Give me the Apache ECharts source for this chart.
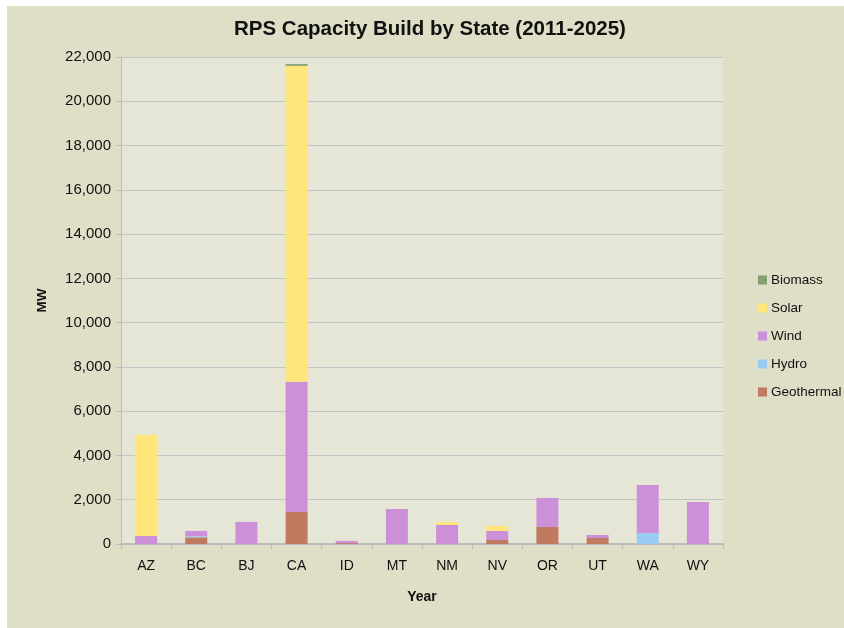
<!DOCTYPE html>
<html>
<head>
<meta charset="utf-8">
<script src="https://cdn.jsdelivr.net/npm/echarts@6/dist/echarts.min.js"></script>
<style>
  html, body { margin: 0; padding: 0; background: #ffffff; }
  #main { position: absolute; left: 7px; top: 6px; width: 837px; height: 622px; }
</style>
</head>
<body>
<div id="main"></div>
<script>
var states = ['AZ', 'BC', 'BJ', 'CA', 'ID', 'MT', 'NM', 'NV', 'OR', 'UT', 'WA', 'WY'];
var geothermal = [0, 300, 0, 1445, 40, 0, 0, 180, 770, 270, 0, 0];
var hydro = [0, 50, 0, 0, 0, 0, 0, 0, 0, 0, 500, 0];
var wind = [360, 240, 1000, 5885, 100, 1580, 860, 410, 1310, 135, 2165, 1900];
var solar = [4560, 0, 0, 14270, 0, 0, 130, 225, 0, 0, 0, 0];
var biomass = [0, 0, 0, 80, 0, 0, 0, 0, 0, 0, 0, 0];

var colors = {
    Geothermal: '#c07a60',
    Hydro: '#99ccf2',
    Wind: '#cc90d8',
    Solar: '#ffe57a',
    Biomass: '#86a06f'
};

var myChart = echarts.init(document.getElementById('main'));

function bar(name, data) {
    return {
        name: name,
        type: 'bar',
        stack: 'total',
        barWidth: 22,
        data: data,
        itemStyle: { color: colors[name] }
    };
}

var option = {
    backgroundColor: '#dfdec7',
    animation: false,
    textStyle: { fontFamily: 'Liberation Sans, Arial, sans-serif' },
    title: {
        text: 'RPS Capacity Build by State (2011-2025)',
        left: 222,
        top: 8,
        textStyle: { fontSize: 20.5, fontWeight: 'bold', color: '#111' }
    },
    legend: {
        orient: 'vertical',
        left: 746,
        top: 262,
        itemWidth: 9,
        itemHeight: 9,
        itemGap: 14,
        icon: 'rect',
        data: ['Biomass', 'Solar', 'Wind', 'Hydro', 'Geothermal'],
        textStyle: { fontSize: 13.5, color: '#111', padding: [0, 0, 0, -1] }
    },
    grid: {
        left: 114,
        top: 51,
        width: 602,
        height: 487,
        show: true,
        backgroundColor: '#e6e6d6',
        borderWidth: 0
    },
    xAxis: {
        type: 'category',
        data: states,
        name: 'Year',
        nameLocation: 'middle',
        nameGap: 46,
        nameTextStyle: { fontSize: 14, fontWeight: 'bold', color: '#111' },
        axisLine: { lineStyle: { color: '#bdbdbd', width: 2 } },
        axisTick: { show: true, length: 5, lineStyle: { color: '#bdbdbd' } },
        axisLabel: { fontSize: 14, color: '#111', margin: 15 }
    },
    yAxis: {
        type: 'value',
        min: 0,
        max: 22000,
        interval: 2000,
        name: 'MW',
        nameLocation: 'middle',
        nameGap: 72,
        nameTextStyle: { fontSize: 13.5, fontWeight: 'bold', color: '#111' },
        axisLine: { show: true, lineStyle: { color: '#bdbdbd' } },
        axisTick: { show: true, length: 5, lineStyle: { color: '#bdbdbd' } },
        axisLabel: {
            fontSize: 15,
            color: '#111',
            margin: 10,
            formatter: function (v) { return v.toLocaleString('en-US'); }
        },
        splitLine: { lineStyle: { color: '#c4c4c4', width: 1 } }
    },
    series: [
        bar('Geothermal', geothermal),
        bar('Hydro', hydro),
        bar('Wind', wind),
        bar('Solar', solar),
        bar('Biomass', biomass)
    ]
};
myChart.setOption(option);
</script>
</body>
</html>
